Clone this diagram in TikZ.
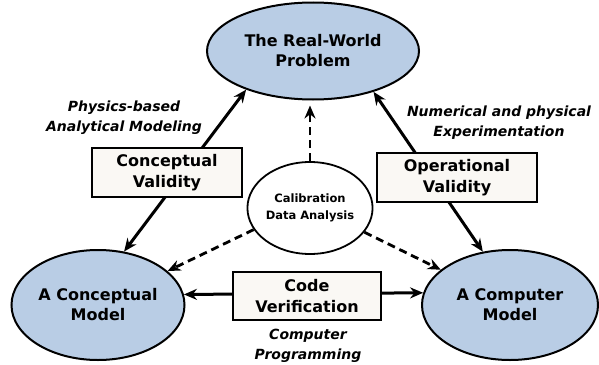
\documentclass[tikz,border=0pt]{standalone}
\usepackage{fontspec}
\setmainfont{DejaVu Sans}
\usetikzlibrary{arrows.meta,shapes.geometric}

\definecolor{ellfill}{HTML}{B9CDE5}
\definecolor{boxfill}{HTML}{FAF8F4}

\tikzset{
  world/.style={ellipse, draw=black, line width=2pt, fill=ellfill,
    inner sep=0pt, align=center,
    font=\fontsize{16}{20}\selectfont\bfseries},
  valbox/.style={rectangle, draw=black, line width=2pt, fill=boxfill,
    inner sep=0pt, align=center, minimum height=49pt,
    font=\fontsize{16}{21}\selectfont\bfseries},
  calib/.style={ellipse, draw=black, line width=1.8pt, fill=white,
    inner sep=0pt, align=center,
    font=\fontsize{11.5}{17}\selectfont\bfseries},
  activity/.style={align=center,
    font=\fontsize{14}{20}\selectfont\bfseries\itshape},
  bigtip/.style={Stealth[length=13pt,width=11pt]},
  link/.style={line width=3pt, {Stealth[length=13pt,width=11pt]}-{Stealth[length=13pt,width=11pt]}},
  feed/.style={line width=2.8pt, dash pattern=on 8pt off 5pt,
    -{Stealth[length=13pt,width=11pt]}}
}

\begin{document}
\begin{tikzpicture}[x=1pt,y=-1pt]
  \useasboundingbox (0,0) rectangle (599,364);

  % the three models
  \node[world, minimum width=212pt, minimum height=97pt] (real) at (313,51)
    {The Real-World\\Problem};
  \node[world, minimum width=173pt, minimum height=110pt] (concept) at (98,305)
    {A Conceptual\\Model};
  \node[world, minimum width=176pt, minimum height=110pt] (comp) at (510,305)
    {A Computer\\Model};

  % calibration in the middle
  \node[calib, minimum width=116pt, minimum height=92pt] (calib) at (310,208)
    {Calibration\\Data Analysis};

  % solid links between the models
  \draw[link] (real.210.6) -- (concept.64);
  \draw[link] (real.326.5) -- (comp.117);
  \draw[link] (concept.7.2) -- (comp.172.8);

  % dashed feeds from calibration
  \draw[feed, shorten >=5pt] (calib.north) -- (calib.north |- real.south);
  \draw[feed] (calib.201) -- (concept.26.6);
  \draw[feed] (calib.336) -- (comp.153.7);

  % validation boxes laid over the links
  \node[valbox, minimum width=150pt] (cval) at (167,172.5) {Conceptual\\Validity};
  \node[valbox, minimum width=160pt] (oval) at (457,177.5) {Operational\\Validity};
  \node[valbox, minimum width=148pt, minimum height=48pt] (cver) at (307,296)
    {Code\\Verification};

  % activity labels
  \node[activity] (phys) at (124,118) {Physics-based\\Analytical Modeling};
  \node[activity] (numer) at (499,123) {Numerical and physical\\Experimentation};
  \node[activity] (prog) at (308,346) {Computer\\Programming};
\end{tikzpicture}
\end{document}
